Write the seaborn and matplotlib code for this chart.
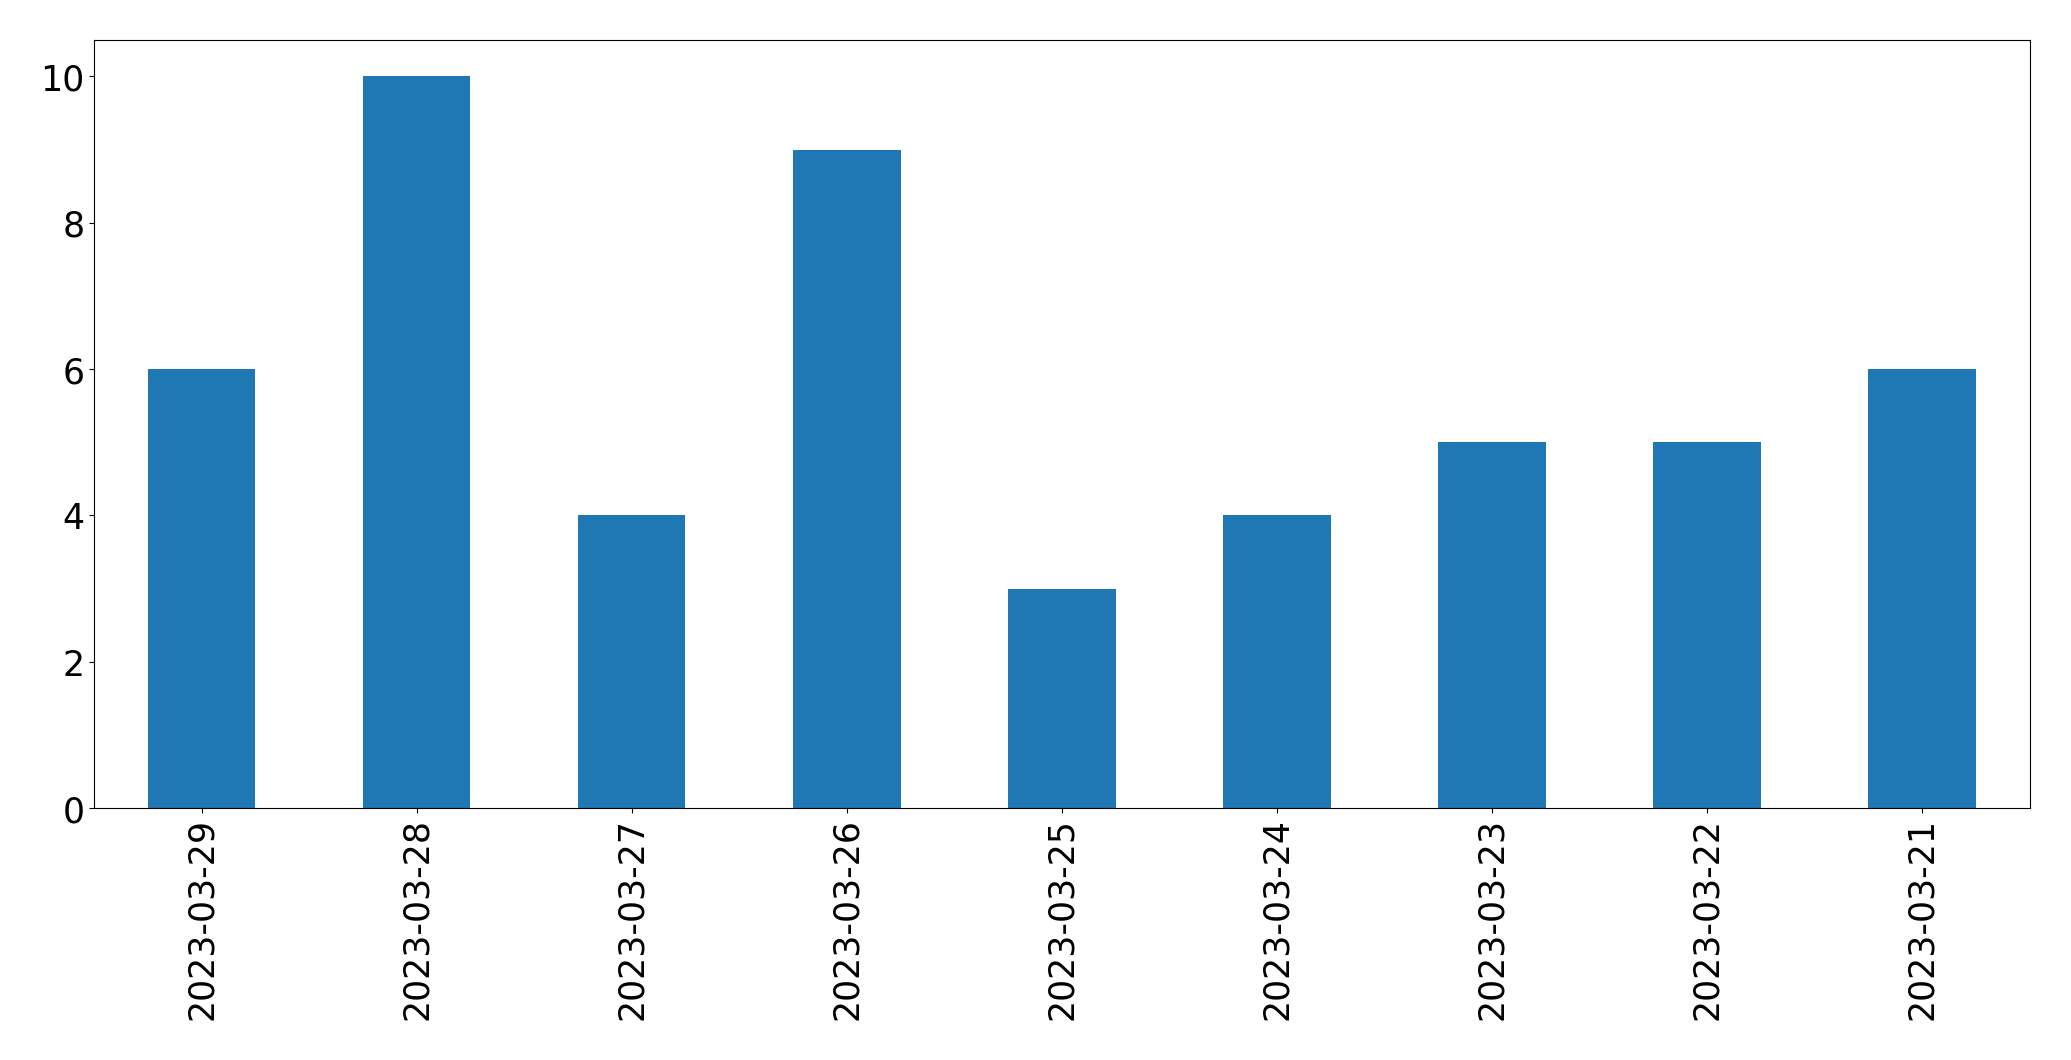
import pandas as pd
import matplotlib
matplotlib.use("Agg")
import matplotlib.pyplot as plt
import seaborn as sns

dates = ["2023-03-29", "2023-03-28", "2023-03-27", "2023-03-26", "2023-03-25",
         "2023-03-24", "2023-03-23", "2023-03-22", "2023-03-21"]
counts = [6, 10, 4, 9, 3, 4, 5, 5, 6]

df = pd.DataFrame({"date": dates, "count": counts})

fig, ax = plt.subplots(figsize=(20.71, 10.605), dpi=100)
sns.barplot(data=df, x="date", y="count", color="#1f77b4", saturation=1, width=0.5, ax=ax)

ax.set_xlim(-0.5, len(dates) - 0.5)
ax.set_ylim(0, 10.5)
ax.set_xlabel("")
ax.set_ylabel("")
ax.tick_params(axis="both", labelsize=25)
plt.xticks(rotation=90)

plt.subplots_adjust(left=0.0454, right=0.980, top=0.962, bottom=0.2375)
plt.savefig("out.png", dpi=100)
